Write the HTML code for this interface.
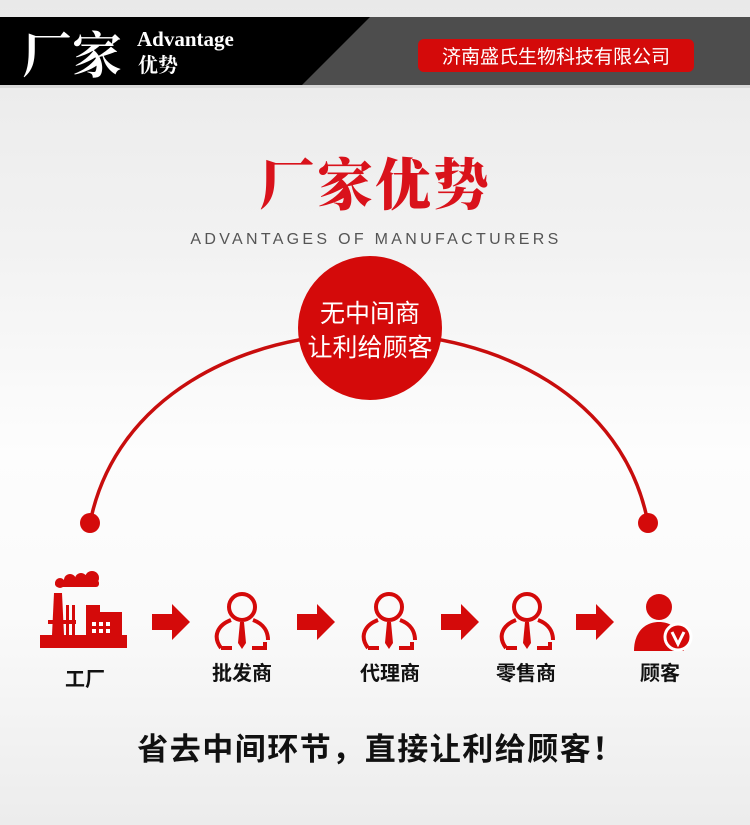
<!DOCTYPE html>
<html><head><meta charset="utf-8"><style>
html,body{margin:0;padding:0}
body{width:750px;height:825px;overflow:hidden;background:linear-gradient(#e9e9e9 0%,#f2f2f2 30%,#fdfdfd 55%,#fafafa 75%,#ececec 100%);font-family:"Liberation Sans","Noto Sans CJK SC",sans-serif}
svg{display:block}
</style></head><body>
<svg width="750" height="825" viewBox="0 0 750 825" xmlns="http://www.w3.org/2000/svg" font-family="Liberation Sans, Noto Sans CJK SC, sans-serif">
<rect x="0" y="17" width="750" height="68" fill="#4d4d4d"/>
<polygon points="0,17 370,17 302,85 0,85" fill="#000"/>
<rect x="0" y="85" width="750" height="3" fill="#d8d8d8"/>
<text x="22" y="73" font-family="Noto Serif CJK SC, serif" font-weight="bold" font-size="50" fill="#fff">厂家</text>
<text x="137" y="46" font-family="Liberation Serif, serif" font-weight="bold" font-size="21" fill="#fff">Advantage</text>
<text x="138" y="72" font-family="Noto Serif CJK SC, serif" font-weight="bold" font-size="20" fill="#fff">优势</text>
<rect x="418" y="39" width="276" height="33" rx="6" fill="#d40a0a"/>
<text x="556" y="63" text-anchor="middle" font-size="19" fill="#fff">济南盛氏生物科技有限公司</text>

<text x="375" y="205" text-anchor="middle" font-family="Noto Serif CJK SC, serif" font-weight="900" font-size="56" fill="#d9121b" letter-spacing="2">厂家优势</text>
<text x="376" y="244" text-anchor="middle" font-size="16" fill="#555" letter-spacing="3.3">ADVANTAGES OF MANUFACTURERS</text>

<path d="M90 523 C140 270 600 270 648 523" fill="none" stroke="#c80d0d" stroke-width="3.5"/>
<circle cx="90" cy="523" r="10" fill="#d40a0a"/>
<circle cx="648" cy="523" r="10" fill="#d40a0a"/>
<circle cx="370" cy="328" r="72" fill="#d40a0a"/>
<text x="370" y="322" text-anchor="middle" font-size="25" fill="#fff">无中间商</text>
<text x="370" y="356" text-anchor="middle" font-size="25" fill="#fff">让利给顾客</text>

<g fill="#d40a0a">
<circle cx="60" cy="583" r="5"/><circle cx="70" cy="580" r="6"/><circle cx="81" cy="579" r="6"/><circle cx="92" cy="578" r="7"/>
<rect x="55" y="580" width="44" height="7" rx="3"/>
<polygon points="52,635 54,593 62,593 64,635"/>
<rect x="66" y="605" width="3" height="30"/><rect x="72" y="605" width="3" height="30"/>
<rect x="48" y="620" width="28" height="4"/>
<rect x="86" y="605" width="14" height="30"/>
<rect x="86" y="612" width="36" height="26"/>
<rect x="40" y="635" width="87" height="13"/>
</g>
<g fill="#fff"><rect x="92" y="622" width="4" height="4"/><rect x="99" y="622" width="4" height="4"/><rect x="106" y="622" width="4" height="4"/><rect x="92" y="629" width="4" height="4"/><rect x="99" y="629" width="4" height="4"/><rect x="106" y="629" width="4" height="4"/></g>

<g fill="#d40a0a">
<polygon points="152,614 172,614 172,604 190,622 172,640 172,630 152,630"/>
<polygon points="297,614 317,614 317,604 335,622 317,640 317,630 297,630"/>
<polygon points="441,614 461,614 461,604 479,622 461,640 461,630 441,630"/>
<polygon points="576,614 596,614 596,604 614,622 596,640 596,630 576,630"/>
</g>

<g id="p" fill="none" stroke="#d40a0a" stroke-width="4">
<circle cx="242" cy="607" r="13"/>
<path d="M221 648 C212 636 218 625 231 620"/>
<path d="M253 620 C264 624 268 632 268 640"/>
<path d="M221 648 L232 648"/>
<path d="M252 648 L265 648 L265 642"/>
</g>
<polygon points="240,622 244,622 246,643 242,649 238,643" fill="#d40a0a"/>
<use href="#p" x="147"/>
<polygon points="387,622 391,622 393,643 389,649 385,643" fill="#d40a0a"/>
<use href="#p" x="285"/>
<polygon points="525,622 529,622 531,643 527,649 523,643" fill="#d40a0a"/>

<g fill="#d40a0a">
<circle cx="659" cy="607" r="13"/>
<path d="M634 651 C634 632 645 622 659 622 C673 622 684 632 684 651 Z"/>
<circle cx="678" cy="637" r="13" stroke="#fff" stroke-width="3"/>
</g>
<path d="M672 632 L678 644 L684 632" fill="none" stroke="#fff" stroke-width="3"/>

<g font-size="20" font-weight="bold" fill="#111" text-anchor="middle">
<text x="85" y="686">工厂</text>
<text x="242" y="680">批发商</text>
<text x="390" y="680">代理商</text>
<text x="526" y="680">零售商</text>
<text x="660" y="680">顾客</text>
</g>
<text x="381" y="760" text-anchor="middle" font-size="31" font-weight="bold" fill="#111" letter-spacing="1.5">省去中间环节，直接让利给顾客！</text>
</svg>
</body></html>
